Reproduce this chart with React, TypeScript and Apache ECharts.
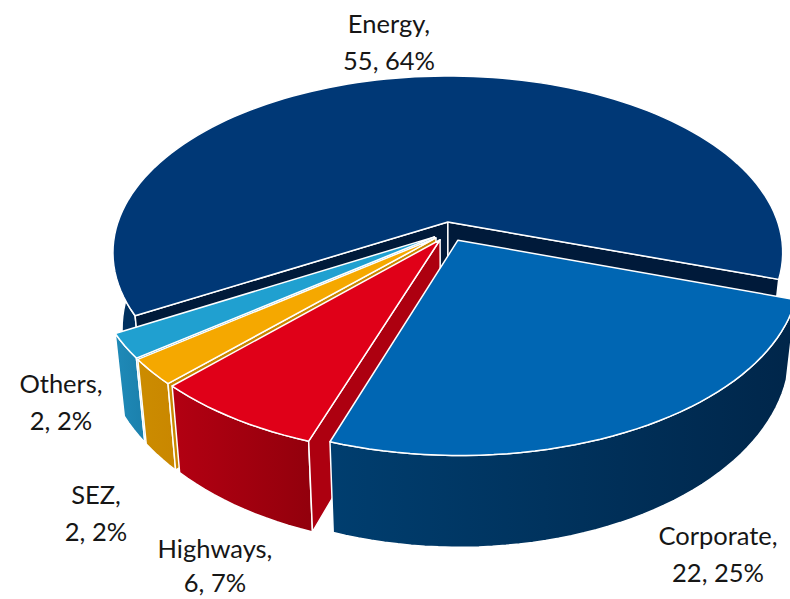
import React, { useEffect, useRef } from "react";
import * as echarts from "echarts";

const categories = ["Energy", "Corporate", "Highways", "SEZ", "Others"];
const labelValues = [55, 22, 6, 2, 2];
const percents = [64, 25, 7, 2, 2];
// unrounded slice sizes
const sliceValues = [55.4, 21.9, 6.1, 2, 1.9];

// styling & layout (not data)
const drawOrder = [0, 4, 3, 2, 1];
const topColors = ["#003876", "#0066b3", "#e00018", "#f5a800", "#20a0d0"];
const wallLeft = ["#00305f", "#003e6f", "#b30012", "#cc8c00", "#1f8ab8"];
const wallRight = ["#00305f", "#00264a", "#92000c", "#c98700", "#1b80ac"];
const faceColors = ["#001a3a", "#00264a", "#ad0010", "#c98700", "#1b80ac"];
const labelX = [389, 718, 215, 96, 61];
const labelY = [41, 553, 565, 512, 401];
const labelLineHeight = [37, 37, 34, 37, 37];

const START_DEG = 150;
const EXPLODE = 0.055;
const CX = 449.7, CY = 231.5, RX = 333, RY = 174.5, K = 0.174, DEPTH = 75, TAPER = 0.027;

const total = sliceValues.reduce((a, b) => a + b, 0);
const rad = (d: number) => (d * Math.PI) / 180;

const proj = (u: number, v: number, z: number) => {
  const w = 1 - K * v;
  return [CX + (RX * u * (1 - z * TAPER)) / w, CY + (RY * v + z * DEPTH) / w];
};

function sliceAngles(index: number) {
  let a = START_DEG;
  for (let i = 0; i < index; i++) a += (sliceValues[i] / total) * 360;
  return [a, a + (sliceValues[index] / total) * 360];
}

function renderItem(_params: any, api: any) {
  const i = api.value(0) as number;
  const [a, b] = sliceAngles(i);
  const mid = rad((a + b) / 2);
  const ou = Math.cos(mid) * EXPLODE;
  const ov = Math.sin(mid) * EXPLODE;
  const rim = (deg: number, z: number) => proj(ou + Math.cos(rad(deg)), ov + Math.sin(rad(deg)), z);
  const apex = (z: number) => proj(ou, ov, z);

  const arcTop: number[][] = [];
  const arcBottom: number[][] = [];
  const steps = Math.max(4, Math.ceil((b - a) / 2));
  for (let s = 0; s <= steps; s++) {
    const d = a + ((b - a) * s) / steps;
    arcTop.push(rim(d, 0));
    arcBottom.push(rim(d, 1));
  }

  const line = { stroke: "#ffffff", lineWidth: 1.5, lineJoin: "round" };
  const wallFill = new echarts.graphic.LinearGradient(0, 0, 1, 0, [
    { offset: 0, color: wallLeft[i] },
    { offset: 1, color: wallRight[i] },
  ]);

  const children: any[] = [];
  children.push({
    type: "polygon",
    shape: { points: [...arcTop, ...arcBottom.slice().reverse()] },
    style: { fill: wallFill, ...line },
  });
  // radial faces turned to the viewer
  if (Math.cos(rad(a)) < 0) {
    children.push({
      type: "polygon",
      shape: { points: [apex(0), rim(a, 0), rim(a, 1), apex(1)] },
      style: { fill: faceColors[i], ...line },
    });
  }
  if (Math.cos(rad(b)) > 0) {
    children.push({
      type: "polygon",
      shape: { points: [apex(0), rim(b, 0), rim(b, 1), apex(1)] },
      style: { fill: faceColors[i], ...line },
    });
  }
  children.push({
    type: "polygon",
    shape: { points: [apex(0), ...arcTop] },
    style: { fill: topColors[i], ...line },
  });
  return { type: "group", children };
}

export default function App() {
  const ref = useRef<HTMLDivElement>(null);
  useEffect(() => {
    document.body.style.margin = "0";
    const chart = echarts.init(ref.current!, null, { renderer: "svg" });
    chart.setOption({
      animation: false,
      backgroundColor: "#ffffff",
      series: [
        {
          type: "custom",
          coordinateSystem: "none",
          renderItem,
          silent: true,
          data: drawOrder.map((i) => [i, sliceValues[i]]),
        },
      ],
      graphic: categories.map((c, i) => ({
        type: "text",
        x: labelX[i],
        y: labelY[i],
        z: 10,
        style: {
          text: `${c},\n${labelValues[i]}, ${percents[i]}%`,
          fontFamily: "Lato",
          fontSize: 25.5,
          lineHeight: labelLineHeight[i],
          fill: "#161616",
          align: "center",
          verticalAlign: "middle",
        },
      })),
    });
    return () => chart.dispose();
  }, []);
  return <div ref={ref} style={{ width: 790, height: 599 }} />;
}
